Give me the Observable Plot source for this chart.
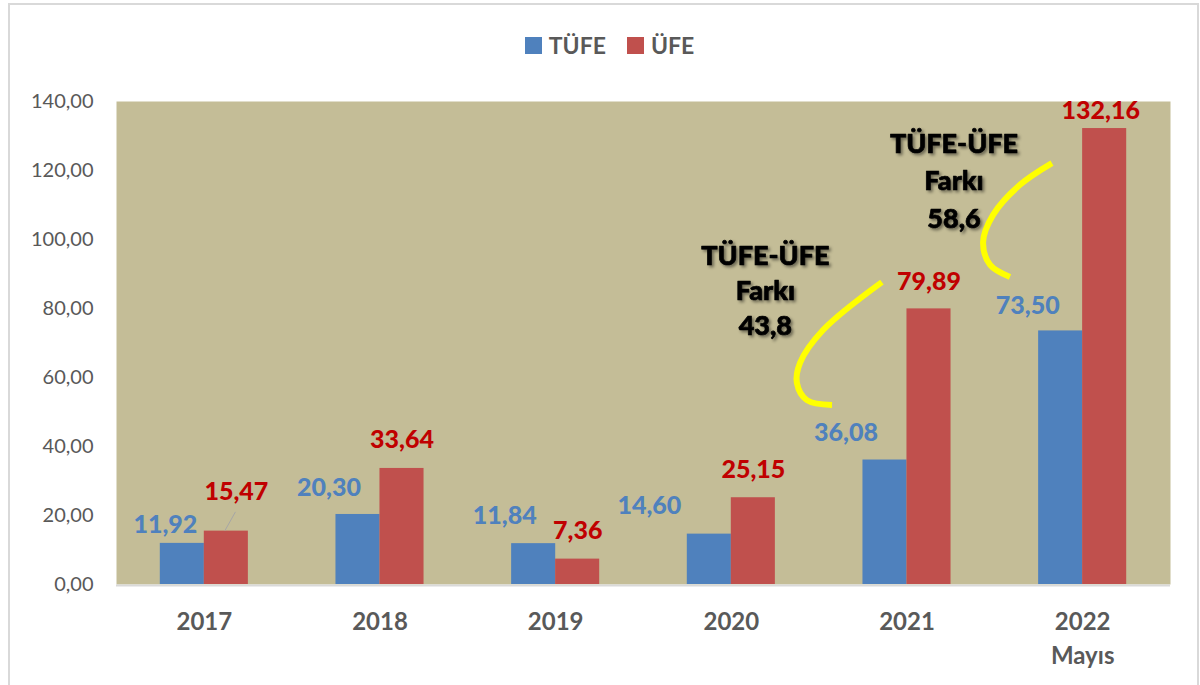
<!DOCTYPE html>
<html>
<head>
<meta charset="utf-8">
<script src="https://cdn.jsdelivr.net/npm/d3@7"></script>
<script src="https://cdn.jsdelivr.net/npm/@observablehq/plot@0.6"></script>
<style>
  html, body { margin: 0; padding: 0; background: #fff; }
  body { width: 1200px; height: 685px; overflow: hidden; position: relative; font-family: Lato, "Open Sans", sans-serif; }
  #border { position: absolute; left: 8px; top: 3px; width: 1187px; height: 700px; border: 2px solid #d9d9d9; border-bottom: none; pointer-events: none; }
  #legend { height: 70px; box-sizing: border-box; padding-top: 36px; padding-left: 19px; display: flex; justify-content: center; align-items: flex-start; }
  .item { display: flex; align-items: center; font-weight: bold; font-size: 23px; color: #595959; line-height: 18px; }
  .sw { width: 17px; height: 17px; margin-right: 7px; }
  #chart svg { display: block; }
  .shadow { filter: drop-shadow(2px 2px 1.5px rgba(0,0,0,0.45)); }
  .shadow text, .shadow tspan { font-weight: 900; }
  .vlabel text { font-weight: 900; }
</style>
</head>
<body>
<div id="border"></div>
<div id="legend"></div>
<div id="chart"></div>
<script>
// ---- data ----
const years = ["2017", "2018", "2019", "2020", "2021", "2022"];
const tufe = [11.92, 20.30, 11.84, 14.60, 36.08, 73.50];
const ufe = [15.47, 33.64, 7.36, 25.15, 79.89, 132.16];
const seriesNames = ["TÜFE", "ÜFE"];
const yTicks = [0, 20, 40, 60, 80, 100, 120, 140];
const notes = [
  {year: "2020", value: 85.8, text: "TÜFE-ÜFE\nFarkı\n43,8"},
  {year: "2021", value: 117.7, text: "TÜFE-ÜFE\nFarkı\n58,6"}
];

const colors = {"TÜFE": "#4f81bd", "ÜFE": "#c0504d"};
const labelColors = {"TÜFE": "#4f81bd", "ÜFE": "#c00000"};

// legend
const legend = document.getElementById("legend");
seriesNames.forEach((s, i) => {
  const it = document.createElement("div");
  it.className = "item";
  if (i > 0) it.style.marginLeft = "21px";
  it.innerHTML = `<div class="sw" style="background:${colors[s]}"></div><span>${s}</span>`;
  legend.appendChild(it);
});

const rows = [];
years.forEach((y, i) => {
  rows.push({year: y, series: "TÜFE", value: tufe[i]});
  rows.push({year: y, series: "ÜFE", value: ufe[i]});
});
const fmt = v => v.toFixed(2).replace(".", ",");

// label nudges (pixels, relative to band centre / bar top)
const tufeDx = {"2017": -39, "2018": -51, "2019": -51, "2020": -82, "2021": -61, "2022": -55};
const tufeDy = {"2017": -18, "2018": -26, "2019": -28, "2020": -28, "2021": -27, "2022": -25};
const ufeDx = {"2017": 32, "2018": 22, "2019": 22, "2020": 22, "2021": 22, "2022": 18};
const ufeDy = {"2017": -39, "2018": -28, "2019": -28, "2020": -28, "2021": -27, "2022": -18};

// decorative curves given in (band, fraction of band, value) space
const arc1 = [["2021", 0.36, 87.5], ["2021", 0.025, 73.6], ["2021", -0.106, 64.1], ["2021", -0.124, 58.3], ["2021", -0.067, 53.3], ["2021", 0.076, 51.9]];
const arc2 = [["2022", 0.328, 122.0], ["2022", 0.146, 115.7], ["2022", -0.007, 107.0], ["2022", -0.064, 99.1], ["2022", -0.024, 92.5], ["2022", 0.089, 89.0]];
const leader = [["2017", 0.62, 15.47], ["2017", 0.68, 20.9]];

function curve(points, stroke, width, curveFn) {
  return (index, scales, values, dims, context) => {
    const sx = typeof scales.x === "function" ? scales.x : scales.scales.x;
    const sy = typeof scales.y === "function" ? scales.y : scales.scales.y;
    const step = sx(years[1]) - sx(years[0]);
    const pts = points.map(([b, f, v]) => [sx(b) + f * step, sy(v)]);
    const path = d3.create("svg:path")
      .attr("d", d3.line().curve(curveFn)(pts))
      .attr("fill", "none")
      .attr("stroke", stroke)
      .attr("stroke-width", width);
    return path.node();
  };
}

const marks = [
  Plot.frame({fill: "#c4bd97"}),
  Plot.barY(rows.filter(d => d.series === "TÜFE"), {x: "year", y: "value", fill: colors["TÜFE"], insetLeft: 43.8, insetRight: 87.8}),
  Plot.barY(rows.filter(d => d.series === "ÜFE"), {x: "year", y: "value", fill: colors["ÜFE"], insetLeft: 87.8, insetRight: 43.8}),
  Plot.ruleY([0], {stroke: "#d9d9d9", strokeWidth: 2, dy: 1}),
  curve(leader, "#a6a6a6", 1, d3.curveLinear),
  curve(arc1, "#ffff00", 6, d3.curveCatmullRom),
  curve(arc2, "#ffff00", 6, d3.curveCatmullRom),
  Plot.axisY({ticks: yTicks, tickFormat: fmt, tickSize: 0, tickPadding: 23, fontSize: 20}),
  Plot.axisX({tickSize: 0, tickPadding: 22, fontSize: 24, fontWeight: "bold", lineHeight: 1.4,
    tickFormat: d => d === "2022" ? "2022\nMayıs" : d})
];
rows.forEach(d => {
  const isT = d.series === "TÜFE";
  marks.push(Plot.text([d], {
    x: "year", y: "value", text: r => fmt(r.value),
    fill: labelColors[d.series], fontSize: 25, fontWeight: 900, className: "vlabel",
    dx: isT ? tufeDx[d.year] : ufeDx[d.year],
    dy: isT ? tufeDy[d.year] : ufeDy[d.year]
  }));
});
notes.forEach((n, i) => {
  marks.push(Plot.text([n], {
    x: "year", y: "value", text: "text", fill: "#000", stroke: "#000", strokeWidth: 0.7,
    fontSize: 27, fontWeight: 900,
    lineHeight: i === 0 ? 1.3 : 1.38, dx: i === 0 ? 34 : 47, className: "shadow"
  }));
});

const chart = Plot.plot({
  width: 1200,
  height: 615,
  marginLeft: 116,
  marginRight: 30,
  marginTop: 31,
  marginBottom: 101,
  style: {fontFamily: "Lato, 'Open Sans', sans-serif", color: "#595959", background: "transparent"},
  x: {type: "band", domain: years, padding: 0, round: false, label: null, axis: null},
  y: {domain: [0, 140], label: null, axis: null},
  marks
});
document.getElementById("chart").appendChild(chart);
</script>
</body>
</html>
